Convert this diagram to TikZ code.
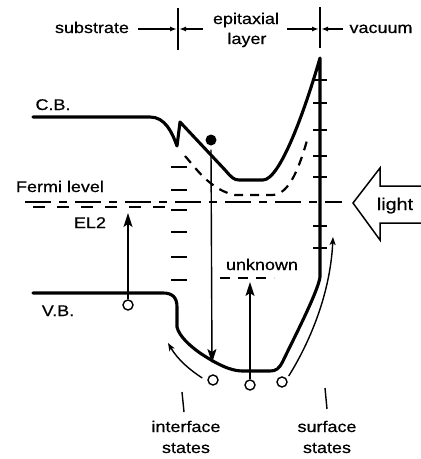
\documentclass[tikz,border=0pt]{standalone}
\usepackage{fontspec}
\setmainfont{Liberation Sans}[FakeStretch=1.16,FakeBold=0.5]
\usetikzlibrary{arrows.meta}
\begin{document}
\begin{tikzpicture}[x=1pt,y=-1pt,
  lbl/.style={inner sep=0pt, anchor=base, font=\fontsize{15.5}{18}\selectfont},
  band/.style={line width=3.1pt, line join=round, line cap=round},
  thinl/.style={line width=1.4pt},
  tick/.style={line width=2.4pt},
  hole/.style={circle, draw, line width=1.4pt, fill=white, minimum size=10pt, inner sep=0pt},
  elec/.style={circle, fill=black, minimum size=11pt, inner sep=0pt},
  trans/.style={thinl, -{Stealth[length=14pt,width=9pt,inset=3pt]}},
  small/.style={thinl, -{Stealth[length=8pt,width=6pt,inset=2pt]}},
  lim/.style={thinl, -{Latex[length=7pt,width=5pt]}}
]
\useasboundingbox (0,0) rectangle (421,459);

% ---------- top labels ----------
\node[lbl] (sub) at (92,33) {substrate};
\node[lbl] (epi) at (246,24) {epitaxial};
\node[lbl] (lay) at (247,44) {layer};
\node[lbl] (vac) at (381,33) {vacuum};
\coordinate (b1t) at (178,8);  \coordinate (b1b) at (178,50);
\coordinate (b2t) at (320,7);  \coordinate (b2b) at (320,48);
\draw[thinl] (b1t) -- (b1b);
\draw[thinl] (b2t) -- (b2b);
\coordinate (a1s) at (138,29); \coordinate (a1e) at (177,29);
\coordinate (a2s) at (203,29); \coordinate (a2e) at (179,29);
\coordinate (a3s) at (287,29); \coordinate (a3e) at (319,29);
\coordinate (a4s) at (343,29); \coordinate (a4e) at (321,29);
\draw[lim] (a1s) -- (a1e);
\draw[lim] (a2s) -- (a2e);
\draw[lim] (a3s) -- (a3e);
\draw[lim] (a4s) -- (a4e);

% ---------- band labels ----------
\node[lbl] (cb) at (53,110) {C.B.};
\node[lbl] (vb) at (58,316) {V.B.};
\node[lbl] (fermi) at (60,192) {Fermi level};
\node[lbl] (el2) at (90,228) {EL2};
\node[lbl] (unk) at (262,270) {unknown};
\node[lbl, font=\fontsize{17}{20}\selectfont] (light) at (395,210) {light};

% ---------- Fermi level and EL2 ----------
\draw[line width=1.5pt, dash pattern=on 26pt off 8pt on 8pt off 8pt] (25,202) -- (342,202);
\draw[line width=1.5pt, dash pattern=on 12pt off 12pt] (33,207) -- (170,207);
\draw[line width=1.5pt, dash pattern=on 10pt off 8pt] (220,278) -- (274,278);

% ---------- interface states ----------
\foreach \yy in {167,190,210,232,257,280}
  \draw[tick] (171,\yy) -- (187,\yy);

% ---------- surface states ----------
\foreach \yy in {80,103,130,156,177,226,248}
  \draw[tick] (313,\yy) -- (327,\yy);

% ---------- bands ----------
\draw[band] (33,117) -- (150,117) .. controls (165,117) and (172,132) .. (177,146)
  -- (180,122) -- (226,171) .. controls (231,177) and (234,180) .. (239,180)
  -- (263,180) .. controls (280,180) and (305,110) .. (320,58)
  -- (320,277) .. controls (318,292) and (292,342) .. (283,361)
  .. controls (279,369) and (276,371) .. (270,371) -- (242,371)
  .. controls (230,371) and (215,363) .. (200,353)
  .. controls (190,346) and (179,336) .. (177,327) -- (177,307)
  .. controls (177,297) and (172,293) .. (163,293) -- (33,293);

\draw[line width=2.2pt, dash pattern=on 9pt off 7pt]
  (185,156) .. controls (195,167) and (210,190) .. (235,195) -- (272,195)
  .. controls (290,195) and (300,165) .. (308,137);

% ---------- light ----------
\draw[line width=1.5pt, line join=miter] (421,186) -- (380,186) -- (380,168) -- (353,203)
  -- (380,240) -- (380,223) -- (421,223);

% ---------- carriers ----------
\node[elec] (e1) at (211,140) {};
\node[hole] (h1) at (128,305) {};
\node[hole] (h2) at (213,380) {};
\node[hole] (h3) at (250,385) {};
\node[hole] (h4) at (282,382) {};

\coordinate (t1) at (128,213);
\coordinate (t2) at (212,363);
\coordinate (t3) at (250,282);
\coordinate (t4) at (168,343);
\coordinate (t5) at (333,237);
\draw[trans] (h1) -- (t1);
\draw[trans] (e1.south) ++(0,4) -- (t2);
\draw[trans] (h3) -- (t3);
\draw[small] (h2.west) ++(-5,-2) .. controls (190,370) and (178,360) .. (t4);
\draw[small] (h4.east) ++(1,-6) .. controls (305,350) and (330,300) .. (t5);

% ---------- bottom labels ----------
\coordinate (p1t) at (182,392); \coordinate (p1b) at (184,412);
\coordinate (p2t) at (325,388); \coordinate (p2b) at (327,409);
\draw[thinl] (p1t) -- (p1b);
\draw[thinl] (p2t) -- (p2b);
\node[lbl] (if1) at (186,432) {interface};
\node[lbl] (if2) at (186,453) {states};
\node[lbl] (sf1) at (327,432) {surface};
\node[lbl] (sf2) at (327,453) {states};
\end{tikzpicture}
\end{document}
